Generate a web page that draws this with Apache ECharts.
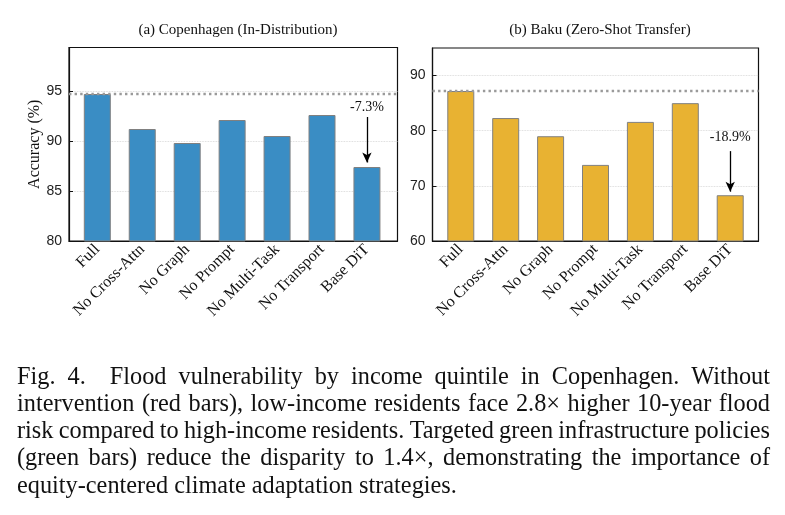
<!DOCTYPE html>
<html>
<head>
<meta charset="utf-8">
<script src="https://cdn.jsdelivr.net/npm/echarts@6/dist/echarts.min.js"></script>
<style>
  html, body { margin: 0; padding: 0; background: #fff; }
  #main { width: 785px; height: 515px; }
</style>
</head>
<body>
<div id="main"></div>
<script>
  // ablation variants (same order in both panels)
  var categories = ['Full', 'No Cross-Attn', 'No Graph', 'No Prompt', 'No Multi-Task', 'No Transport', 'Base DiT'];
  var copenhagenAcc = [94.7, 91.2, 89.8, 92.1, 90.5, 92.6, 87.4];
  var bakuAcc = [87.2, 82.3, 79.0, 73.8, 81.6, 85.0, 68.3];
  var copenhagenTicks = [80, 85, 90, 95];
  var bakuTicks = [60, 70, 80, 90];
  var dropLabels = ['-7.3%', '-18.9%'];
  var panelTitles = ['(a) Copenhagen (In-Distribution)', '(b) Baku (Zero-Shot Transfer)'];
  var captionLines = [
    'Fig. 4.  Flood vulnerability by income quintile in Copenhagen. Without',
    'intervention (red bars), low-income residents face 2.8\u00d7 higher 10-year flood',
    'risk compared to high-income residents. Targeted green infrastructure policies',
    '(green bars) reduce the disparity to 1.4\u00d7, demonstrating the importance of',
    'equity-centered climate adaptation strategies.'
  ];

  var serif = '"Liberation Serif", "Times New Roman", serif';
  var sans = '"Liberation Sans", Arial, sans-serif';
  var idx = categories.map(function (c, i) { return i; });
  var xMin = -0.63;
  var xMax = [6.68, 6.63];

  function xAxisFor(gridIndex) {
    return {
      type: 'value', gridIndex: gridIndex, min: xMin, max: xMax[gridIndex],
      axisLine: { show: true, onZero: false, lineStyle: { color: '#111', width: 1.2 } },
      axisTick: { show: true, inside: true, length: 4, customValues: idx, lineStyle: { color: '#111' } },
      axisLabel: {
        customValues: idx, rotate: 45, margin: 6,
        fontFamily: serif, fontSize: 16, color: '#111',
        formatter: function (v) { return categories[Math.round(v)]; }
      },
      splitLine: { show: false }
    };
  }

  function yAxisFor(gridIndex, min, max, ticks, name) {
    return {
      type: 'value', gridIndex: gridIndex, min: min, max: max,
      name: name, nameLocation: 'middle', nameGap: 25,
      nameTextStyle: { fontFamily: serif, fontSize: 16, color: '#111' },
      axisLine: { show: true, onZero: false, lineStyle: { color: '#111', width: 1.2 } },
      axisTick: { show: true, inside: true, length: 4, customValues: ticks, lineStyle: { color: '#111' } },
      axisLabel: { customValues: ticks, margin: 7, fontFamily: sans, fontSize: 14, color: '#222' },
      splitLine: { show: true, lineStyle: { color: '#d0d0d0', width: 0.8, type: 'dotted' } }
    };
  }

  function barSeries(i, values, color, drop, arrowFrom, arrowTo, textAt) {
    var last = values.length - 1;
    return {
      type: 'bar', xAxisIndex: i, yAxisIndex: i,
      data: values.map(function (v, k) { return [k, v]; }),
      barWidth: 27,
      itemStyle: { color: color, borderColor: '#808080', borderWidth: 1 },
      markLine: {
        silent: true, animation: false, symbol: 'none',
        // reference level of the full model
        lineStyle: { color: '#9a9a9a', width: 2.4, type: [2.4, 3.2], opacity: 1 },
        data: [
          [{ coord: [xMin, values[0]] }, { coord: [xMax[i], values[0]] }],
          [{ coord: [last, values[last] + arrowFrom], lineStyle: { color: '#000', width: 1.3, type: 'solid' } },
           { coord: [last, values[last] + arrowTo], symbol: 'arrow', symbolSize: [7, 10] }]
        ],
        label: { show: false }
      },
      markPoint: {
        silent: true, animation: false,
        symbol: 'circle', symbolSize: 0,
        data: [{ coord: [last, values[last] + textAt] }],
        label: { show: true, position: 'inside', formatter: drop, fontFamily: serif, fontSize: 14, color: '#111' }
      }
    };
  }

  // caption, justified word by word like the printed figure
  var measure = document.createElement('canvas').getContext('2d');
  var capFont = 24.3, capLeft = 17, capRight = 770, capTop = 380, capLead = 27.2;
  measure.font = capFont + 'px ' + serif;
  var captionGraphics = [];
  captionLines.forEach(function (line, li) {
    var y = capTop + li * capLead;
    if (li === captionLines.length - 1) {
      captionGraphics.push({ type: 'text', x: capLeft, y: y - capFont * 0.6,
        style: { text: line, font: capFont + 'px ' + serif, fill: '#111' } });
      return;
    }
    var words = line.split(' ');
    var widths = words.map(function (w) { return measure.measureText(w).width; });
    var total = widths.reduce(function (a, b) { return a + b; }, 0);
    var gap = (capRight - capLeft - total) / (words.length - 1);
    var x = capLeft;
    words.forEach(function (w, k) {
      if (w) {
        captionGraphics.push({ type: 'text', x: x, y: y - capFont * 0.6,
          style: { text: w, font: capFont + 'px ' + serif, fill: '#111' } });
      }
      x += widths[k] + gap;
    });
  });

  var myChart = echarts.init(document.getElementById('main'));
  myChart.setOption({
    backgroundColor: '#fff',
    animation: false,
    title: [
      { text: panelTitles[0], left: 233, top: 18, textAlign: 'center',
        textStyle: { fontFamily: serif, fontSize: 15, fontWeight: 'normal', color: '#111' } },
      { text: panelTitles[1], left: 595, top: 18, textAlign: 'center',
        textStyle: { fontFamily: serif, fontSize: 15, fontWeight: 'normal', color: '#111' } }
    ],
    grid: [
      { left: 69, top: 47.5, width: 328.5, height: 193.5, show: true, borderColor: '#111', borderWidth: 1.2 },
      { left: 432.5, top: 48, width: 326, height: 193, show: true, borderColor: '#111', borderWidth: 1.2 }
    ],
    xAxis: [xAxisFor(0), xAxisFor(1)],
    yAxis: [
      yAxisFor(0, 80, 99.35, copenhagenTicks, 'Accuracy (%)'),
      yAxisFor(1, 60, 95, bakuTicks, '')
    ],
    series: [
      barSeries(0, copenhagenAcc, '#3a8dc4', dropLabels[0], 5.0, 0.45, 6.0),
      barSeries(1, bakuAcc, '#e8b232', dropLabels[1], 8.0, 0.65, 10.45)
    ],
    graphic: captionGraphics
  });

  window.addEventListener('resize', function () {
    myChart.resize();
  });
</script>
</body>
</html>
